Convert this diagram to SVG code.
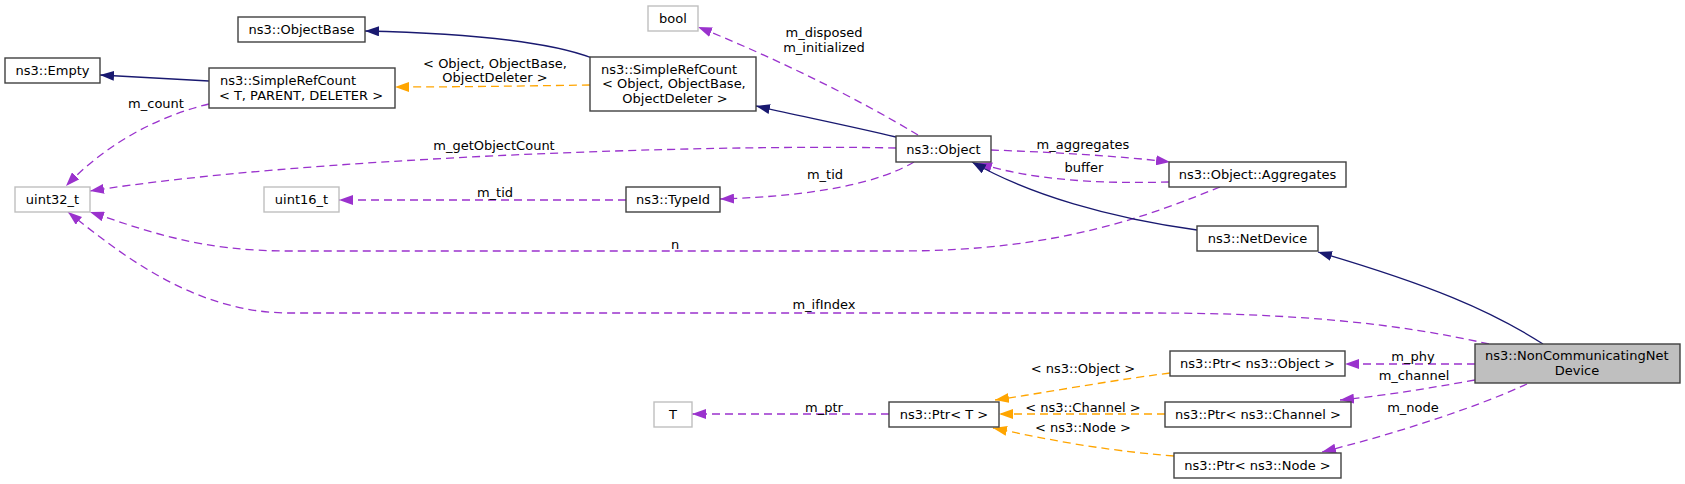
<svg xmlns="http://www.w3.org/2000/svg" width="1685" height="484" viewBox="0 0 1685 484">
<style>
text{font-family:"DejaVu Sans","Liberation Sans",sans-serif;font-size:13px;fill:#000}
.m{text-anchor:middle}
.n rect{fill:#fff;stroke:#404040;stroke-width:1.4}
.x rect{fill:#fff;stroke:#bfbfbf;stroke-width:1.4}
.g rect{fill:#bfbfbf;stroke:#404040;stroke-width:1.4}
.e path{fill:none;stroke-width:1.3}
.inh{stroke:#191970}
.use{stroke:#9a32cd;stroke-dasharray:8,5}
.tpl{stroke:#ffa500;stroke-dasharray:8,5}
</style>
<defs>
<marker id="aN" viewBox="0 0 10 7" refX="10" refY="3.5" markerWidth="14" markerHeight="10" markerUnits="userSpaceOnUse" orient="auto" preserveAspectRatio="none"><path d="M0,0L10,3.5L0,7z" fill="#191970"/></marker>
<marker id="aP" viewBox="0 0 10 7" refX="10" refY="3.5" markerWidth="14" markerHeight="10" markerUnits="userSpaceOnUse" orient="auto" preserveAspectRatio="none"><path d="M0,0L10,3.5L0,7z" fill="#9a32cd"/></marker>
<marker id="aO" viewBox="0 0 10 7" refX="10" refY="3.5" markerWidth="14" markerHeight="10" markerUnits="userSpaceOnUse" orient="auto" preserveAspectRatio="none"><path d="M0,0L10,3.5L0,7z" fill="#ffa500"/></marker>
</defs>
<g id="edges" class="e">
<path class="inh" d="M592,58C545,40 455,33 365,31" marker-end="url(#aN)"/>
<path class="inh" d="M209,81C170,79 135,77 100,75" marker-end="url(#aN)"/>
<path class="tpl" d="M590,85C520,86 460,87 395,87" marker-end="url(#aO)"/>
<path class="inh" d="M896,137C850,126 800,116 756,106" marker-end="url(#aN)"/>
<path class="use" stroke-dasharray="6,4" d="M918,135C860,100 780,60 698,27" marker-end="url(#aP)"/>
<path class="use" d="M209,104C150,118 100,150 66,186" marker-end="url(#aP)"/>
<path class="use" d="M896,148C700,144 300,158 90,191" marker-end="url(#aP)"/>
<path class="use" d="M1220,187C1150,215 1060,251 900,251L290,251C200,251 150,232 90,212" marker-end="url(#aP)"/>
<path class="use" d="M1489,344C1400,324 1300,313 1150,313L290,313C200,313 130,262 68,212" marker-end="url(#aP)"/>
<path class="use" d="M626,200L339,200" marker-end="url(#aP)"/>
<path class="use" d="M914,162C880,182 820,196 720,199" marker-end="url(#aP)"/>
<path class="use" d="M991,150C1050,152 1120,156 1170,162" marker-end="url(#aP)"/>
<path class="use" d="M1169,182C1100,184 1030,180 978,163" marker-end="url(#aP)"/>
<path class="inh" d="M1197,230C1110,218 1030,195 972,162" marker-end="url(#aN)"/>
<path class="inh" d="M1543,344C1490,310 1430,285 1318,252" marker-end="url(#aN)"/>
<path class="use" d="M1475,364L1345,364" marker-end="url(#aP)"/>
<path class="use" d="M1475,380C1430,388 1390,395 1340,400" marker-end="url(#aP)"/>
<path class="use" d="M1527,384C1470,410 1390,435 1322,452" marker-end="url(#aP)"/>
<path class="tpl" d="M1170,373C1100,382 1050,392 995,400" marker-end="url(#aO)"/>
<path class="tpl" d="M1165,414L999,414" marker-end="url(#aO)"/>
<path class="tpl" d="M1174,456C1100,450 1050,440 993,428" marker-end="url(#aO)"/>
<path class="use" d="M889,414L692,414" marker-end="url(#aP)"/>
</g>
<g id="edge-labels">
<text class="m" x="495" y="67.5">&lt; Object, ObjectBase,</text>
<text class="m" x="495" y="81.5">ObjectDeleter &gt;</text>
<text class="m" x="156" y="107.5">m_count</text>
<text class="m" x="494" y="149.5">m_getObjectCount</text>
<text class="m" x="495" y="196.5">m_tid</text>
<text class="m" x="825" y="178.5">m_tid</text>
<text class="m" x="824" y="36.5">m_disposed</text>
<text class="m" x="824" y="51.5">m_initialized</text>
<text class="m" x="1083" y="148.5">m_aggregates</text>
<text class="m" x="1084" y="171.5">buffer</text>
<text class="m" x="675" y="248.5">n</text>
<text class="m" x="824" y="308.5">m_ifIndex</text>
<text class="m" x="1413" y="360.5">m_phy</text>
<text class="m" x="1414" y="379.5">m_channel</text>
<text class="m" x="1413" y="411.5">m_node</text>
<text class="m" x="1083" y="372.5">&lt; ns3::Object &gt;</text>
<text class="m" x="1083" y="411.5">&lt; ns3::Channel &gt;</text>
<text class="m" x="1083" y="431.5">&lt; ns3::Node &gt;</text>
<text class="m" x="824" y="411.5">m_ptr</text>
</g>
<g id="ObjectBase" class="n"><rect x="238" y="17" width="127" height="25"/><text class="m" x="301.5" y="34">ns3::ObjectBase</text></g>
<g id="Empty" class="n"><rect x="5" y="58" width="95" height="25"/><text class="m" x="52.5" y="75">ns3::Empty</text></g>
<g id="SimpleRefCountT" class="n"><rect x="209" y="68" width="186" height="40"/><text x="220" y="84.5">ns3::SimpleRefCount</text><text class="m" x="301" y="99.5">&lt; T, PARENT, DELETER &gt;</text></g>
<g id="SimpleRefCountObject" class="n"><rect x="590" y="57" width="166" height="54"/><text x="601" y="73.5">ns3::SimpleRefCount</text><text x="602" y="88">&lt; Object, ObjectBase,</text><text class="m" x="675" y="102.5">ObjectDeleter &gt;</text></g>
<g id="bool" class="x"><rect x="648" y="6" width="50" height="25"/><text class="m" x="673" y="23">bool</text></g>
<g id="uint32_t" class="x"><rect x="15" y="187" width="75" height="25"/><text class="m" x="52.5" y="204">uint32_t</text></g>
<g id="uint16_t" class="x"><rect x="264" y="187" width="75" height="25"/><text class="m" x="301.5" y="204">uint16_t</text></g>
<g id="TypeId" class="n"><rect x="626" y="187" width="94" height="25"/><text class="m" x="673" y="204">ns3::TypeId</text></g>
<g id="Object" class="n"><rect x="896" y="136" width="95" height="26"/><text class="m" x="943.5" y="153.5">ns3::Object</text></g>
<g id="Aggregates" class="n"><rect x="1169" y="162" width="177" height="25"/><text class="m" x="1257.5" y="179">ns3::Object::Aggregates</text></g>
<g id="NetDevice" class="n"><rect x="1197" y="226" width="121" height="25"/><text class="m" x="1257.5" y="243">ns3::NetDevice</text></g>
<g id="NonCommunicatingNetDevice" class="g"><rect x="1475" y="344" width="205" height="39"/><text x="1485" y="359.5">ns3::NonCommunicatingNet</text><text class="m" x="1577" y="375">Device</text></g>
<g id="PtrObject" class="n"><rect x="1170" y="351" width="175" height="25"/><text class="m" x="1257.5" y="368">ns3::Ptr&lt; ns3::Object &gt;</text></g>
<g id="PtrChannel" class="n"><rect x="1165" y="402" width="186" height="25"/><text class="m" x="1258" y="419">ns3::Ptr&lt; ns3::Channel &gt;</text></g>
<g id="PtrNode" class="n"><rect x="1174" y="453" width="167" height="25"/><text class="m" x="1257.5" y="470">ns3::Ptr&lt; ns3::Node &gt;</text></g>
<g id="PtrT" class="n"><rect x="889" y="402" width="110" height="25"/><text class="m" x="944" y="419">ns3::Ptr&lt; T &gt;</text></g>
<g id="T" class="x"><rect x="654" y="402" width="38" height="25"/><text class="m" x="673" y="419">T</text></g>
</svg>
